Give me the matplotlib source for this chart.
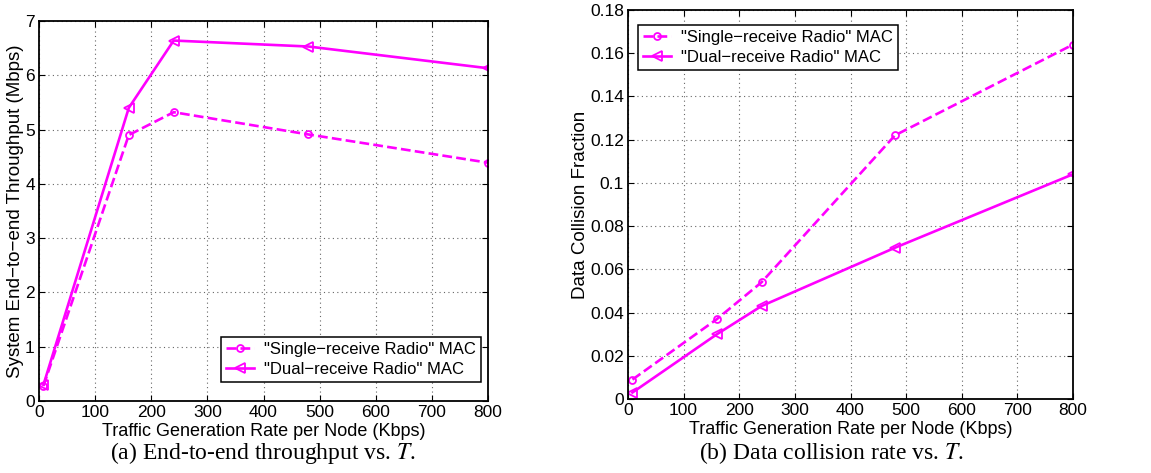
import numpy as np
import matplotlib
matplotlib.use("Agg")
import matplotlib.pyplot as plt

# data
rate = [8, 160, 240, 480, 800]
thr_single = [0.28, 4.90, 5.32, 4.91, 4.39]
thr_dual = [0.30, 5.40, 6.64, 6.53, 6.13]
col_single = [0.009, 0.037, 0.054, 0.122, 0.164]
col_dual = [0.003, 0.030, 0.043, 0.070, 0.104]
labels = ['"Single\u2212receive Radio" MAC', '"Dual\u2212receive Radio" MAC']
xticks = [0, 100, 200, 300, 400, 500, 600, 700, 800]

plt.rcParams['font.family'] = ['Liberation Sans', 'DejaVu Sans']
plt.rcParams['font.size'] = 12.5
plt.rcParams['mathtext.fontset'] = 'stix'

W, H = 1151, 473
fig = plt.figure(figsize=(W / 100, H / 100), dpi=100)
mag = '#ff00ff'


def style(ax):
    ax.set_xlim(0, 800)
    ax.set_xticks(xticks)
    ax.grid(True, linestyle=(0, (1, 3)), color='#666666', linewidth=0.8)
    ax.tick_params(direction='in', top=True, right=True, length=4, labelsize=12.5, pad=3)
    for s in ax.spines.values():
        s.set_linewidth(1.3)
    ax.set_xlabel('Traffic Generation Rate per Node (Kbps)', fontsize=13, labelpad=2)


def draw(ax, ys, yd):
    ax.plot(rate, ys, '--', color=mag, lw=1.9, marker='o', ms=5, mfc='none', mew=1.3,
            label=labels[0])
    ax.plot(rate, yd, '-', color=mag, lw=1.9, marker='<', ms=7, mfc='none', mew=1.3,
            label=labels[1])


def legend(ax, **kw):
    leg = ax.legend(fancybox=False, edgecolor='black', framealpha=1, fontsize=12,
                    handlelength=1.7, handletextpad=0.6, numpoints=1,
                    borderpad=0.3, labelspacing=0.3, borderaxespad=0, **kw)
    leg.get_frame().set_linewidth(1.1)


ax1 = fig.add_axes([39 / W, 1 - 401 / H, 449 / W, 380 / H])
draw(ax1, thr_single, thr_dual)
style(ax1)
ax1.set_ylim(0, 7)
ax1.set_ylabel('System End\u2212to\u2212end Throughput (Mbps)', fontsize=13.5, labelpad=1)
legend(ax1, loc='lower right', bbox_to_anchor=(0.985, 0.05))

ax2 = fig.add_axes([628 / W, 1 - 399 / H, 445 / W, 389 / H])
draw(ax2, col_single, col_dual)
style(ax2)
ax2.set_ylim(0, 0.18)
ax2.set_yticks(np.arange(0, 0.181, 0.02))
ax2.set_yticklabels(['0', '0.02', '0.04', '0.06', '0.08', '0.1', '0.12', '0.14', '0.16', '0.18'])
ax2.set_ylabel('Data Collision Fraction', fontsize=13.5, labelpad=1)
legend(ax2, loc='upper left', bbox_to_anchor=(0.022, 0.962))

fig.text(263 / W, 1 - 453 / H, '(a) End-to-end throughput vs. $T$.', ha='center', va='center',
         family='Liberation Serif', fontsize=17)
fig.text(831 / W, 1 - 453 / H, '(b) Data collision rate vs. $T$.', ha='center', va='center',
         family='Liberation Serif', fontsize=17)

fig.savefig('out.png', dpi=100)
